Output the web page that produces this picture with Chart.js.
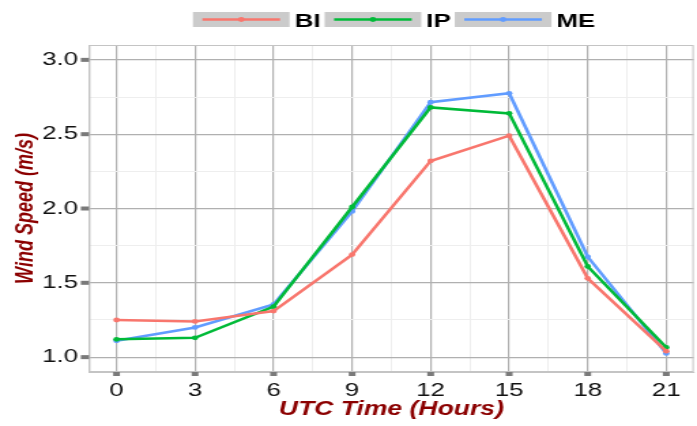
<!DOCTYPE html>
<html>
<head>
<meta charset="utf-8">
<script src="https://cdn.jsdelivr.net/npm/chart.js@4/dist/chart.umd.min.js"></script>
<style>
  html, body { margin: 0; padding: 0; background: #ffffff; overflow: hidden; }
  #wrap { width: 512px; height: 426px; transform: scaleX(1.36133); transform-origin: 0 0; }
  canvas { display: block; }
</style>
</head>
<body>
<div id="wrap"><canvas id="c" width="512" height="426"></canvas></div>
<script>
// ---- data ----
const hours = [0, 3, 6, 9, 12, 15, 18, 21];
const seriesNames = ["BI", "IP", "ME"];
const BI = [1.25, 1.24, 1.31, 1.69, 2.32, 2.49, 1.53, 1.04];
const IP = [1.12, 1.13, 1.34, 2.01, 2.68, 2.64, 1.61, 1.065];
const ME = [1.11, 1.20, 1.355, 1.98, 2.715, 2.775, 1.675, 1.025];
const xTickLabels = [0, 3, 6, 9, 12, 15, 18, 21];
const yTickLabels = [1.0, 1.5, 2.0, 2.5, 3.0];
const colors = ["#F8766D", "#00BA38", "#619CFF"];

const seriesValues = [BI, IP, ME];

// major + minor (midpoint) break positions
function withMinor(major) {
  const out = [];
  for (let i = 0; i < major.length; i++) {
    out.push(major[i]);
    if (i < major.length - 1) out.push((major[i] + major[i + 1]) / 2);
  }
  return out;
}
const isMajor = (arr, v) => arr.some(m => Math.abs(m - v) < 1e-9);

const datasets = seriesNames.map((name, i) => ({
  label: name,
  data: hours.map((h, j) => ({ x: h, y: seriesValues[i][j] })),
  borderColor: colors[i],
  backgroundColor: colors[i],
  borderWidth: 2.6,
  pointRadius: 2.4,
  pointBorderWidth: 0,
  pointHoverRadius: 2.4,
  tension: 0
}));

const panelBorder = {
  id: 'panelBorder',
  beforeDatasetsDraw(chart) {
    const { ctx, chartArea: a } = chart;
    ctx.save();
    ctx.strokeStyle = '#c4c4c4';
    ctx.lineWidth = 1;
    ctx.strokeRect(a.left + 0.5, a.top + 0.5, a.right - a.left - 1, a.bottom - a.top - 1);
    ctx.restore();
  }
};

// thick ggplot-style tick marks, placed with the chart's own scales
const tickMarks = {
  id: 'tickMarks',
  afterDraw(chart) {
    const { ctx, chartArea: a, scales } = chart;
    ctx.save();
    ctx.fillStyle = '#7a7a7a';
    yTickLabels.forEach(v => {
      const py = scales.y.getPixelForValue(v);
      ctx.fillRect(a.left - 6, py - 2, 6, 4);
    });
    xTickLabels.forEach(v => {
      const px = scales.x.getPixelForValue(v);
      ctx.fillRect(px - 2.5, a.bottom, 5, 4);
    });
    ctx.restore();
  }
};

const customLegend = {
  id: 'customLegend',
  afterDraw(chart) {
    const { ctx, chartArea: a } = chart;
    const keyW = 71, keyH = 15, keyY = 12, gap1 = 3.7, gap2 = 3;
    ctx.save();
    ctx.font = 'bold 19px "Liberation Sans", Arial, sans-serif';
    const widths = chart.data.datasets.map(d => ctx.measureText(d.label).width);
    let total = 0;
    widths.forEach((w, i) => { total += keyW + gap1 + w + (i < widths.length - 1 ? gap2 : 0); });
    let x = (a.left + a.right) / 2 + 2 - total / 2;
    chart.data.datasets.forEach((d, i) => {
      ctx.fillStyle = '#cbcbcb';
      ctx.fillRect(x, keyY, keyW, keyH);
      const cy = keyY + keyH / 2;
      ctx.strokeStyle = d.borderColor;
      ctx.lineWidth = 2.6;
      ctx.beginPath();
      ctx.moveTo(x + 7, cy);
      ctx.lineTo(x + 64, cy);
      ctx.stroke();
      ctx.fillStyle = d.borderColor;
      ctx.beginPath();
      ctx.arc(x + keyW / 2, cy, 2.4, 0, Math.PI * 2);
      ctx.fill();
      ctx.fillStyle = '#000000';
      ctx.textBaseline = 'alphabetic';
      ctx.textAlign = 'left';
      ctx.fillText(d.label, x + keyW + gap1, 27);
      x += keyW + gap1 + widths[i] + gap2;
    });
    ctx.restore();
  }
};

new Chart(document.getElementById('c'), {
  type: 'line',
  data: { datasets },
  plugins: [panelBorder, tickMarks, customLegend],
  options: {
    responsive: false,
    animation: false,
    events: [],
    layout: { padding: { top: 45, left: 0, right: 0, bottom: 0 } },
    plugins: { legend: { display: false }, tooltip: { enabled: false } },
    scales: {
      x: {
        type: 'linear',
        min: -1.05,
        max: 22.05,
        afterBuildTicks: s => { s.ticks = withMinor(xTickLabels).map(v => ({ value: v })); },
        afterFit: s => { s.height = 54; },
        ticks: {
          autoSkip: false,
          maxRotation: 0,
          padding: 3,
          color: '#111111',
          font: { family: '"Liberation Sans", Arial, sans-serif', size: 19 },
          callback: v => isMajor(xTickLabels, v) ? String(v) : ''
        },
        grid: {
          color: c => isMajor(xTickLabels, c.tick.value) ? '#b0b0b0' : '#eeeeee',
          lineWidth: c => isMajor(xTickLabels, c.tick.value) ? 1.2 : 1,
          tickColor: 'rgba(0,0,0,0)',
          tickLength: 4
        },
        border: { display: true, color: '#c4c4c4', width: 1 },
        title: {
          display: true,
          text: 'UTC Time (Hours)',
          color: '#8b0000',
          font: { family: '"Liberation Sans", Arial, sans-serif', size: 19.5, weight: 'bold', style: 'italic' },
          padding: { top: 0, bottom: 5 }
        }
      },
      y: {
        type: 'linear',
        min: 0.9,
        max: 3.1,
        afterBuildTicks: s => { s.ticks = withMinor(yTickLabels).map(v => ({ value: v })); },
        afterFit: s => { s.width = 65.4; },
        ticks: {
          padding: 2,
          color: '#111111',
          font: { family: '"Liberation Sans", Arial, sans-serif', size: 19 },
          callback: v => isMajor(yTickLabels, v) ? v.toFixed(1) : ''
        },
        grid: {
          color: c => isMajor(yTickLabels, c.tick.value) ? '#b0b0b0' : '#eeeeee',
          lineWidth: c => isMajor(yTickLabels, c.tick.value) ? 1.2 : 1,
          tickColor: 'rgba(0,0,0,0)',
          tickLength: 6
        },
        border: { display: true, color: '#c4c4c4', width: 1 },
        title: {
          display: true,
          text: 'Wind Speed (m/s)',
          color: '#8b0000',
          font: { family: '"Liberation Sans", Arial, sans-serif', size: 18, weight: 'bold', style: 'italic' },
          padding: { top: 8, bottom: 0 }
        }
      }
    }
  }
});
</script>
</body>
</html>
